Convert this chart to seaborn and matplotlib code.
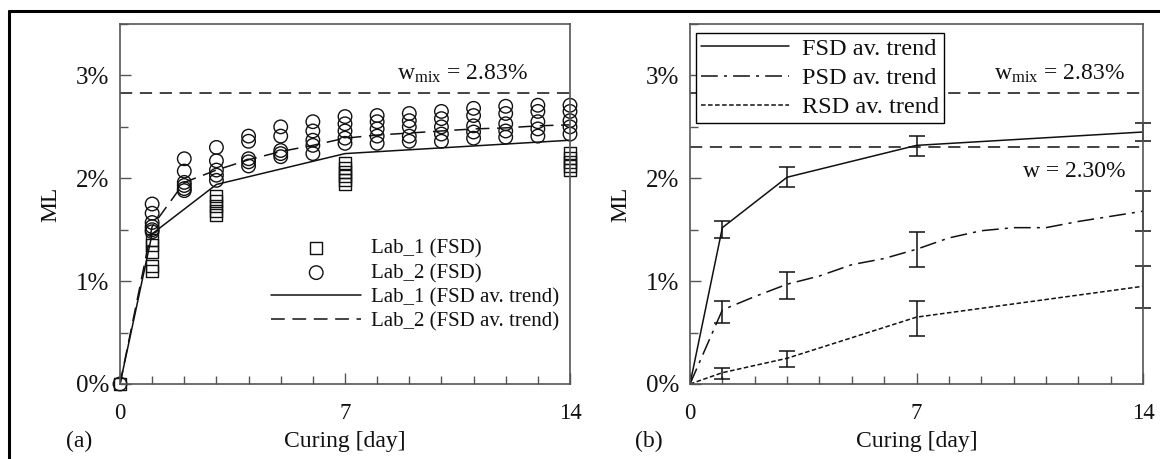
import matplotlib.pyplot as plt
import matplotlib.ticker as mticker
import pandas as pd
import seaborn as sns
from matplotlib.lines import Line2D

# ---- panel (a): individual measurements, ML in % ----
lab1_days = [0, 1, 1, 1, 1, 1, 3, 3, 3, 3, 3, 7, 7, 7, 7, 7, 7, 14, 14, 14, 14, 14]
lab1_ml = [0.0, 1.40, 1.35, 1.28, 1.15, 1.10,
           1.83, 1.78, 1.73, 1.68, 1.64,
           2.15, 2.10, 2.06, 2.02, 1.98, 1.94,
           2.25, 2.20, 2.16, 2.12, 2.08]

lab2_day_list = list(range(15))
lab2_ml_per_day = [
    [0.0],
    [1.75, 1.66, 1.57, 1.53, 1.50, 1.48],
    [2.19, 2.07, 1.96, 1.93, 1.90, 1.88],
    [2.30, 2.17, 2.08, 2.03, 1.98],
    [2.41, 2.36, 2.19, 2.16, 2.12],
    [2.50, 2.41, 2.27, 2.24, 2.21],
    [2.55, 2.46, 2.37, 2.32, 2.24],
    [2.60, 2.53, 2.46, 2.39, 2.34],
    [2.61, 2.55, 2.48, 2.41, 2.34],
    [2.63, 2.56, 2.50, 2.41, 2.36],
    [2.65, 2.58, 2.50, 2.43, 2.36],
    [2.68, 2.61, 2.51, 2.45, 2.39],
    [2.70, 2.63, 2.53, 2.46, 2.40],
    [2.71, 2.65, 2.55, 2.48, 2.41],
    [2.71, 2.65, 2.56, 2.50, 2.43],
]

lab1_trend_days = [0, 1, 3, 7, 14]
lab1_trend = [0.0, 1.46, 1.94, 2.24, 2.37]
lab2_trend_days = list(range(15))
lab2_trend = [0.0, 1.53, 1.96, 2.08, 2.18, 2.26, 2.32, 2.39,
              2.42, 2.44, 2.46, 2.48, 2.49, 2.51, 2.52]

w_mix = 2.83
w_b = 2.30

# ---- panel (b): average trends with error bars ----
fsd_days = [0, 1, 3, 7, 14]
fsd_ml = [0.0, 1.52, 2.01, 2.32, 2.45]
psd_days = list(range(15))
psd_ml = [0.0, 0.72, 0.85, 0.97, 1.05, 1.16, 1.22, 1.31,
          1.42, 1.49, 1.52, 1.52, 1.58, 1.63, 1.68]
rsd_days = [0, 1, 3, 7, 14]
rsd_ml = [0.0, 0.11, 0.25, 0.65, 0.95]

err_days = [1, 3, 7, 14]
fsd_mid = [1.52, 2.01, 2.32, 2.45]
fsd_lo = [1.42, 1.92, 2.22, 2.36]
fsd_hi = [1.58, 2.11, 2.41, 2.54]
psd_mid = [0.72, 0.97, 1.31, 1.68]
psd_lo = [0.59, 0.83, 1.14, 1.49]
psd_hi = [0.81, 1.09, 1.48, 1.88]
rsd_mid = [0.11, 0.25, 0.65, 0.95]
rsd_lo = [0.05, 0.17, 0.47, 0.74]
rsd_hi = [0.16, 0.32, 0.81, 1.15]

lab1 = pd.DataFrame({'day': lab1_days, 'ML': lab1_ml})
lab2 = pd.DataFrame({
    'day': [d for d, vals in zip(lab2_day_list, lab2_ml_per_day) for _ in vals],
    'ML': [v for vals in lab2_ml_per_day for v in vals],
})

sns.set_style('ticks')
plt.rcParams['font.family'] = ['Liberation Serif', 'DejaVu Serif']
plt.rcParams['mathtext.fontset'] = 'custom'
plt.rcParams['mathtext.rm'] = 'Liberation Serif'
plt.rcParams['mathtext.it'] = 'Liberation Serif:italic'
plt.rcParams['font.size'] = 17

ink = '#111111'
spine_col = '#555555'

fig = plt.figure(figsize=(11.6, 4.59), dpi=100)
ax1 = fig.add_axes([120 / 1160, 1 - 384 / 459, 450 / 1160, 360 / 459])
ax2 = fig.add_axes([690 / 1160, 1 - 384 / 459, 453 / 1160, 360 / 459])

# outer frame (top and left edges visible)
fig.add_artist(Line2D([9 / 1160, 1], [1 - 11 / 459] * 2, color='black', lw=2.2,
                      transform=fig.transFigure))
fig.add_artist(Line2D([9 / 1160] * 2, [0, 1 - 11 / 459], color='black', lw=2.2,
                      transform=fig.transFigure))

# ---- panel (a) ----
sns.lineplot(x=lab1_trend_days, y=lab1_trend, ax=ax1, color=ink, lw=1.1,
             label='Lab_1 (FSD av. trend)')
sns.lineplot(x=lab2_trend_days, y=lab2_trend, ax=ax1, color=ink, lw=1.1,
             label='Lab_2 (FSD av. trend)')
ax1.lines[-1].set_dashes((9, 5))
sns.scatterplot(data=lab1, x='day', y='ML', ax=ax1, marker='s', s=75,
                facecolor='none', edgecolor=ink, linewidth=1.0, clip_on=False,
                label='Lab_1 (FSD)')
sns.scatterplot(data=lab2, x='day', y='ML', ax=ax1, marker='o', s=95,
                facecolor='none', edgecolor=ink, linewidth=1.0, clip_on=False,
                label='Lab_2 (FSD)')
ax1.axhline(w_mix, color=ink, lw=1.1, dashes=(8, 5))
ax1.text(12.7, 3.02, r'$\mathrm{w}_{\mathrm{mix}}$ = 2.83%', ha='right', va='center',
         color=ink, fontsize=17)

handles, labels = ax1.get_legend_handles_labels()
order = ['Lab_1 (FSD)', 'Lab_2 (FSD)', 'Lab_1 (FSD av. trend)', 'Lab_2 (FSD av. trend)']
hmap = dict(zip(labels, handles))
ax1.legend([hmap[k] for k in order], order, frameon=False, loc='upper left',
           bbox_to_anchor=(0.318, 0.425), handlelength=4.3, handletextpad=0.48,
           labelspacing=0.22, borderaxespad=0, fontsize=15, labelcolor=ink)

# ---- panel (b) ----
sns.lineplot(x=fsd_days, y=fsd_ml, ax=ax2, color=ink, lw=1.1, label='FSD av. trend')
sns.lineplot(x=psd_days, y=psd_ml, ax=ax2, color=ink, lw=1.1, label='PSD av. trend')
sns.lineplot(x=rsd_days, y=rsd_ml, ax=ax2, color=ink, lw=1.1, label='RSD av. trend')
ax2.lines[1].set_dashes((11, 4, 2, 4))
ax2.lines[2].set_dashes((3, 1.6))
for mid, lo, hi in [(fsd_mid, fsd_lo, fsd_hi), (psd_mid, psd_lo, psd_hi),
                    (rsd_mid, rsd_lo, rsd_hi)]:
    yerr = [[m - l for m, l in zip(mid, lo)], [h - m for m, h in zip(mid, hi)]]
    cont = ax2.errorbar(err_days, mid, yerr=yerr, fmt='none', ecolor=ink,
                        elinewidth=1.1, capsize=6, capthick=1.1)
    for art in cont.lines[1] + cont.lines[2]:
        art.set_clip_on(False)
ax2.axhline(w_mix, color=ink, lw=1.1, dashes=(8, 5))
ax2.axhline(w_b, color=ink, lw=1.1, dashes=(8, 5))
ax2.text(13.45, 3.02, r'$\mathrm{w}_{\mathrm{mix}}$ = 2.83%', ha='right', va='center',
         color=ink, fontsize=17)
ax2.text(13.45, 2.07, 'w = 2.30%', ha='right', va='center', color=ink, fontsize=17)
leg = ax2.legend(loc='upper left', bbox_to_anchor=(0.013, 0.975), borderaxespad=0,
                 handlelength=3.65, handletextpad=0.53, labelspacing=0.3,
                 fontsize=17.5, labelcolor=ink, fancybox=False, framealpha=1,
                 edgecolor='black', borderpad=0.2)
leg.get_frame().set_linewidth(1.0)

for ax, tag in [(ax1, '(a)'), (ax2, '(b)')]:
    ax.set_xlim(0, 14)
    ax.set_ylim(0, 3.5)
    ax.xaxis.set_major_locator(mticker.FixedLocator([0, 7, 14]))
    ax.xaxis.set_minor_locator(mticker.MultipleLocator(1))
    ax.yaxis.set_major_locator(mticker.MultipleLocator(1))
    ax.yaxis.set_minor_locator(mticker.MultipleLocator(0.5))
    ax.yaxis.set_major_formatter(mticker.FuncFormatter(lambda v, p: f'{v:.0f}%'))
    ax.tick_params(which='major', direction='in', length=8, width=1,
                   color=spine_col, labelcolor=ink)
    ax.tick_params(which='minor', direction='in', length=6, width=1, color=spine_col)
    ax.tick_params(axis='x', which='major', pad=14, labelsize=16.5)
    ax.tick_params(axis='y', which='major', pad=8, labelsize=18)
    for s in ax.spines.values():
        s.set_color(spine_col)
        s.set_linewidth(1.2)
    ax.set_xlabel('Curing [day]', fontsize=17, color=ink, labelpad=5)
    ax.set_ylabel('ML', fontsize=17, color=ink, labelpad=10)
    ax.text(-0.09, -0.16, tag, transform=ax.transAxes, ha='center', va='center',
            fontsize=17, color=ink)

fig.savefig('out.png', dpi=100)
